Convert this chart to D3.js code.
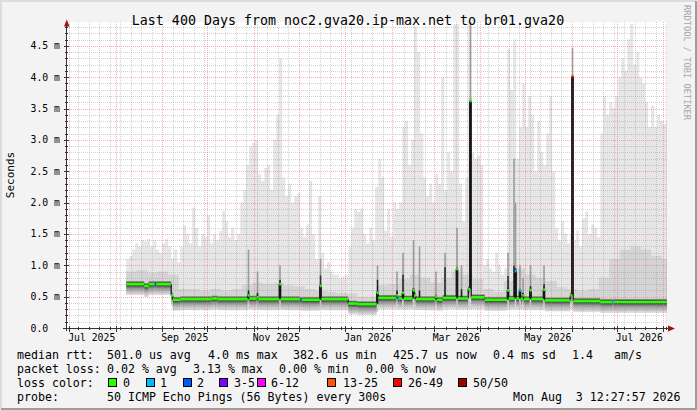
<!DOCTYPE html>
<html>
<head>
<meta charset="utf-8">
<script src="https://cdn.jsdelivr.net/npm/d3@7"></script>
<style>
  html, body { margin: 0; padding: 0; background: #f3f3f3; }
  svg { display: block; }
  text { font-family: "DejaVu Sans Mono", monospace; fill: #000; white-space: pre; }
</style>
</head>
<body>
<svg id="chart" width="697" height="410"></svg>
<script>
// ---- data (values in ms) ----
const title = "Last 400 Days from noc2.gva20.ip-max.net to br01.gva20";
const endTime = new Date(2026, 7, 3, 12, 27, 57);
const yMax = 4.88;
const yTicks = [0, 0.5, 1.0, 1.5, 2.0, 2.5, 3.0, 3.5, 4.0, 4.5];
const yTickLabels = ["0.0  ", "0.5 m", "1.0 m", "1.5 m", "2.0 m", "2.5 m", "3.0 m", "3.5 m", "4.0 m", "4.5 m"];
const xTickMonths = ["2025-07-01", "2025-09-01", "2025-11-01", "2026-01-01", "2026-03-01", "2026-05-01", "2026-07-01"];
const xTickLabels = ["Jul 2025", "Sep 2025", "Nov 2025", "Jan 2026", "Mar 2026", "May 2026", "Jul 2026"];

// median rtt as a step series: [from date, ms, loss class]
const medianRtt = [
  ["2025-08-08", 0.70, 0], ["2025-08-20", 0.67, 0], ["2025-08-23", 0.70, 0],
  ["2025-08-27", 0.70, 2], ["2025-08-28", 0.70, 0], ["2025-09-07", 0.52, 0],
  ["2025-09-08", 0.45, 0], ["2025-09-13", 0.46, 0], ["2025-10-04", 0.47, 0],
  ["2025-10-08", 0.46, 0], ["2025-10-28", 0.52, 0], ["2025-10-29", 0.47, 0],
  ["2025-11-03", 0.49, 0], ["2025-11-04", 0.46, 0], ["2025-11-18", 0.70, 0],
  ["2025-11-19", 0.46, 0], ["2025-12-02", 0.45, 2], ["2025-12-03", 0.45, 0],
  ["2025-12-15", 0.67, 0], ["2025-12-16", 0.46, 0], ["2026-01-03", 0.39, 0],
  ["2026-01-09", 0.38, 0], ["2026-01-22", 0.56, 0], ["2026-01-23", 0.48, 0],
  ["2026-02-04", 0.52, 0], ["2026-02-05", 0.47, 1], ["2026-02-06", 0.47, 0],
  ["2026-02-08", 0.56, 0], ["2026-02-09", 0.47, 0], ["2026-02-15", 0.60, 0],
  ["2026-02-16", 0.52, 0], ["2026-02-17", 0.46, 0], ["2026-03-02", 0.50, 0],
  ["2026-03-03", 0.45, 0], ["2026-03-07", 0.48, 0], ["2026-03-16", 0.94, 0],
  ["2026-03-17", 0.47, 0], ["2026-03-24", 0.62, 0], ["2026-03-25", 3.62, 0],
  ["2026-03-26", 0.49, 0], ["2026-04-04", 0.45, 0], ["2026-04-19", 0.60, 0],
  ["2026-04-20", 0.47, 0], ["2026-04-24", 0.91, 1], ["2026-04-25", 0.47, 0],
  ["2026-04-27", 0.60, 1], ["2026-04-28", 0.47, 0], ["2026-04-29", 0.52, 0],
  ["2026-04-30", 0.46, 0], ["2026-05-04", 0.60, 0], ["2026-05-05", 0.46, 0],
  ["2026-05-13", 0.61, 0], ["2026-05-14", 0.44, 0], ["2026-05-31", 0.52, 0],
  ["2026-06-01", 4.00, 7], ["2026-06-02", 0.43, 0], ["2026-06-20", 0.415, 0],
  ["2026-06-28", 0.415, 1], ["2026-06-29", 0.415, 0]
];

// smoke: slowest ping per 2-day bucket, starting 2025-08-08
const smokeStart = "2025-08-08";
const smokeMax = [
  1.10, 1.15, 1.25, 1.35, 1.30, 1.40, 1.38, 1.42, 1.30, 1.40,
  1.25, 1.20, 1.35, 1.42, 1.30, 1.10, 1.25, 1.05, 1.30, 1.64,
  1.50, 1.35, 1.92, 1.60, 1.30, 1.50, 1.45, 1.80, 1.35, 1.50,
  1.40, 1.55, 1.86, 1.70, 1.45, 1.60, 1.40, 1.50, 2.00, 2.20,
  2.60, 2.90, 2.95, 3.00, 2.45, 2.35, 2.55, 2.60, 2.20, 3.00,
  3.40, 4.30, 2.40, 2.10, 2.30, 2.00, 2.10, 2.15, 1.60, 1.45,
  1.65, 2.35, 1.50, 1.10, 2.10, 1.20, 0.95, 1.05, 0.90, 0.85,
  0.85, 0.80, 0.82, 0.85, 1.30, 1.60, 1.90, 1.85, 1.90, 1.50,
  1.35, 1.60, 1.40, 2.25, 2.70, 2.40, 1.55, 1.90, 1.45, 2.00,
  1.90, 2.00, 3.20, 3.30, 2.60, 3.00, 4.80, 4.40, 3.10, 2.40,
  2.10, 2.30, 2.00, 2.45, 2.30, 4.00, 2.20, 2.80, 2.50, 4.85,
  4.85, 2.30, 1.70, 2.40, 4.88, 2.80, 2.70, 2.75, 2.60, 1.00,
  1.10, 0.95, 0.90, 1.20, 1.00, 0.85, 0.95, 4.45, 3.80, 4.60,
  2.70, 3.20, 3.90, 3.20, 3.70, 3.40, 2.50, 3.30, 2.80, 2.60,
  3.10, 3.70, 2.50, 1.60, 1.40, 1.70, 1.50, 1.35, 1.50, 1.40,
  1.55, 1.30, 1.75, 1.85, 1.50, 1.65, 1.60, 1.45, 3.10, 3.70,
  3.40, 3.60, 3.50, 3.70, 4.00, 4.30, 4.10, 4.60, 4.85, 4.20,
  4.40, 4.00, 3.90, 3.60, 3.20, 3.55, 3.20, 3.40, 3.30, 3.25, 3.30
];

// smoke: upper edge of the dense part, one value per week from the same start
const smokeMid = [
  0.90, 0.92, 0.88, 0.90, 0.85, 0.62, 0.62, 0.60, 0.62, 0.60,
  0.62, 0.68, 0.72, 0.70, 0.72, 0.68, 0.66, 0.62, 0.60, 0.58,
  0.56, 0.55, 0.50, 0.50, 0.68, 0.70, 0.78, 0.85, 0.80, 0.72,
  0.80, 0.90, 0.85, 0.78, 0.62, 0.58, 0.75, 0.95, 0.85, 0.80,
  0.75, 0.65, 0.62, 0.60, 0.62, 0.80, 1.10, 1.25, 1.30, 1.25,
  1.15, 1.10
];

// smoke: fastest ping, step series
const smokeMin = [
  ["2025-08-08", 0.55], ["2025-09-08", 0.30], ["2026-01-03", 0.26],
  ["2026-01-23", 0.30], ["2026-06-20", 0.27]
];

// dense smoke columns: [date, dense top ms, smoke top ms]
const spikes = [
  ["2025-10-28", 0.60, 1.25], ["2025-11-03", 0.56, 0.90], ["2025-11-18", 0.77, 1.00],
  ["2025-12-15", 0.84, 1.10], ["2026-01-22", 0.77, 1.00], ["2026-02-04", 0.60, 0.90],
  ["2026-02-08", 0.85, 1.20], ["2026-02-15", 0.63, 1.40], ["2026-02-19", 0.60, 1.30],
  ["2026-03-02", 0.52, 0.90], ["2026-03-08", 0.97, 1.20], ["2026-03-16", 0.96, 1.60],
  ["2026-03-19", 0.62, 1.00], ["2026-03-25", 3.62, 4.88], ["2026-04-19", 0.83, 1.20],
  ["2026-04-23", 1.00, 2.70], ["2026-04-24", 0.95, 2.00], ["2026-04-27", 0.62, 1.00],
  ["2026-04-29", 0.56, 0.80], ["2026-05-04", 0.67, 1.00], ["2026-05-13", 0.70, 1.00],
  ["2026-06-01", 4.00, 4.47]
];

// legend texts
const rttStats = ["501.0 us avg", "4.0 ms max", "382.6 us min", "425.7 us now", "0.4 ms sd", "1.4", "am/s"];
const lossStats = ["0.02 % avg", "3.13 % max", "0.00 % min", "0.00 % now"];
const lossLabels = ["0", "1", "2", "3-5", "6-12", "13-25", "26-49", "50/50"];
const probeText = "50 ICMP Echo Pings (56 Bytes) every 300s";
const stampText = "Mon Aug  3 12:27:57 2026";

// ---- styles ----
const lossColors = ["#26ff00", "#00b8ff", "#0059ff", "#7e00ff", "#ff00ff", "#ff5500", "#ff0000", "#a10000"];
const W = 697, H = 410;
const plot = { left: 67, right: 667, top: 22, bottom: 328 };
const legendFont = 11.6, axisFont = 9.8;
const gridMinor = "rgba(130,130,130,0.35)", gridMajor = "rgba(240,110,110,0.55)";

const svg = d3.select("#chart");
const parse = d3.timeParse("%Y-%m-%d");
const startTime = d3.timeDay.offset(endTime, -400);

const x = d3.scaleTime().domain([startTime, endTime]).range([plot.left, plot.right]);
const y = d3.scaleLinear().domain([0, yMax]).range([plot.bottom, plot.top]);

// background and 3d frame
svg.append("rect").attr("width", W).attr("height", H).attr("fill", "#f3f3f3");
svg.append("path").attr("d", `M1,${H - 1}V1H${W - 1}`)
  .attr("fill", "none").attr("stroke", "#dcdcdc").attr("stroke-width", 2);
svg.append("path").attr("d", `M1,${H - 1}H${W - 1}V1`)
  .attr("fill", "none").attr("stroke", "#9c9c9c").attr("stroke-width", 2);
svg.append("rect")
  .attr("x", plot.left).attr("y", plot.top)
  .attr("width", plot.right - plot.left).attr("height", plot.bottom - plot.top)
  .attr("fill", "#fff");

const defs = svg.append("defs");
defs.append("clipPath").attr("id", "plotclip").append("rect")
  .attr("x", plot.left).attr("y", plot.top)
  .attr("width", plot.right - plot.left).attr("height", plot.bottom - plot.top);

const halo = defs.append("linearGradient").attr("id", "halo")
  .attr("x1", 0).attr("y1", 0).attr("x2", 0).attr("y2", 1);
[[0, "#a0a0a0"], [0.14, "#2a2a2a"], [0.32, "#444"], [0.5, "#929292"], [0.75, "#c0c0c0"], [1, "#e2e2e2"]]
  .forEach(([o, c]) => halo.append("stop").attr("offset", o).attr("stop-color", c));

const g = svg.append("g").attr("clip-path", "url(#plotclip)");

/**
 * Turns a regular bucket array into step points, closed at the end time.
 */
function bucketSeries(values, stepDays) {
  const t0 = parse(smokeStart);
  const pts = values.map((v, i) => ({ t: d3.timeDay.offset(t0, stepDays * i), v }));
  pts.push({ t: endTime, v: values[values.length - 1] });
  return pts;
}

/**
 * Turns [date, value, ...] breakpoints into step points, closed at the end time.
 */
function stepSeries(rows) {
  const pts = rows.map(r => ({ t: parse(r[0]), v: r[1], loss: r[2] }));
  pts.push({ t: endTime, v: rows[rows.length - 1][1], loss: rows[rows.length - 1][2] });
  return pts;
}

const stepArea = d3.area()
  .x(d => x(d.t))
  .y0(plot.bottom)
  .y1(d => y(d.v))
  .curve(d3.curveStepAfter);

// smoke layers
g.append("path").datum(bucketSeries(smokeMax, 2)).attr("d", stepArea).attr("fill", "#e6e6e6");
g.append("path").datum(bucketSeries(smokeMid, 7)).attr("d", stepArea).attr("fill", "#d4d4d4");
g.append("path").datum(stepSeries(smokeMin)).attr("d", stepArea).attr("fill", "#fff");

const median = stepSeries(medianRtt);

// dense band hugging the median
g.selectAll("rect.halo")
  .data(d3.pairs(median))
  .join("rect")
  .attr("class", "halo")
  .attr("x", ([a]) => x(a.t))
  .attr("width", ([a, b]) => Math.max(1.5, x(b.t) - x(a.t)))
  .attr("y", ([a]) => y(a.v) - 3)
  .attr("height", 14)
  .attr("fill", "url(#halo)");

/**
 * Median point in effect just before a given time.
 */
function medianBefore(t) {
  const i = d3.bisector(d => d.t).left(median, t) - 1;
  return median[Math.max(0, i)];
}

// dense smoke columns
spikes.forEach(([date, dense, top]) => {
  const t = parse(date);
  const x0 = x(t);
  const w = Math.max(1.6, x(d3.timeDay.offset(t, 1)) - x0);
  const base = medianBefore(t).v;
  const loss = medianBefore(d3.timeDay.offset(t, 1)).loss;
  g.append("rect")
    .attr("x", x0).attr("width", w)
    .attr("y", y(top)).attr("height", y(dense) - y(top))
    .attr("fill", "#9c9c9c");
  g.append("rect")
    .attr("x", x0).attr("width", w)
    .attr("y", y(dense)).attr("height", y(base) - y(dense))
    .attr("fill", loss === 7 ? "#5e1010" : "#1c1c1c");
});

// grid, drawn over the smoke
const grid = svg.append("g");
const crisp = v => Math.round(v) + 0.5;
const monthLines = d3.timeMonth.range(d3.timeMonth.ceil(startTime), endTime);
const weekLines = d3.timeMonday.range(startTime, endTime)
  .filter(t => !monthLines.some(m => Math.abs(x(m) - x(t)) < 2));
const minorY = d3.range(1, 49).map(i => i / 10).filter(v => Math.round(v * 10) % 5 !== 0);
const majorY = yTicks.filter(v => v > 0);

grid.selectAll("line.vminor").data(weekLines).join("line")
  .attr("x1", d => crisp(x(d))).attr("x2", d => crisp(x(d)))
  .attr("y1", plot.top).attr("y2", plot.bottom)
  .attr("stroke", gridMinor).attr("stroke-dasharray", "1,1");
grid.selectAll("line.hminor").data(minorY).join("line")
  .attr("x1", plot.left).attr("x2", plot.right)
  .attr("y1", d => crisp(y(d))).attr("y2", d => crisp(y(d)))
  .attr("stroke", gridMinor).attr("stroke-dasharray", "1,1");
grid.selectAll("line.vmajor").data(monthLines).join("line")
  .attr("x1", d => crisp(x(d))).attr("x2", d => crisp(x(d)))
  .attr("y1", plot.top).attr("y2", plot.bottom)
  .attr("stroke", gridMajor).attr("stroke-dasharray", "1,1");
grid.selectAll("line.hmajor").data(majorY).join("line")
  .attr("x1", plot.left).attr("x2", plot.right)
  .attr("y1", d => crisp(y(d))).attr("y2", d => crisp(y(d)))
  .attr("stroke", gridMajor).attr("stroke-dasharray", "1,1");

// median line: black jumps, loss-coloured levels
const med = svg.append("g").attr("clip-path", "url(#plotclip)");
med.selectAll("line.jump")
  .data(d3.pairs(median).filter(([a, b]) => a.v !== b.v))
  .join("line")
  .attr("x1", ([, b]) => x(b.t)).attr("x2", ([, b]) => x(b.t))
  .attr("y1", ([a]) => y(a.v)).attr("y2", ([, b]) => y(b.v))
  .attr("stroke", "#111").attr("stroke-width", 1.2);
med.selectAll("line.level")
  .data(d3.pairs(median))
  .join("line")
  .attr("x1", ([a]) => x(a.t))
  .attr("x2", ([a, b]) => Math.max(x(b.t), x(a.t) + 2))
  .attr("y1", ([a]) => y(a.v)).attr("y2", ([a]) => y(a.v))
  .attr("stroke", ([a]) => lossColors[a.loss])
  .attr("stroke-width", 2.7);

// axes with ticks and arrows
const axis = svg.append("g").attr("stroke", "#333").attr("stroke-width", 1);
axis.append("line").attr("x1", 66.5).attr("x2", 66.5).attr("y1", 331).attr("y2", plot.top);
axis.append("line").attr("x1", 63).attr("x2", 669).attr("y1", 328.5).attr("y2", 328.5);
majorY.forEach(v => axis.append("line")
  .attr("x1", 64).attr("x2", 69).attr("y1", crisp(y(v))).attr("y2", crisp(y(v))));
minorY.forEach(v => axis.append("line")
  .attr("x1", 65).attr("x2", 68).attr("y1", crisp(y(v))).attr("y2", crisp(y(v))));
monthLines.forEach(t => axis.append("line")
  .attr("x1", crisp(x(t))).attr("x2", crisp(x(t))).attr("y1", 326).attr("y2", 332));
weekLines.forEach(t => axis.append("line")
  .attr("x1", crisp(x(t))).attr("x2", crisp(x(t))).attr("y1", 327).attr("y2", 330));
svg.append("path").attr("d", "M64,26.5L69.5,26.5L66.8,19.5Z").attr("fill", "#9a1414");
svg.append("path").attr("d", "M668,325.5L668,331.5L675,328.5Z").attr("fill", "#9a1414");

// tick labels
svg.selectAll("text.ylab").data(yTicks).join("text")
  .attr("class", "ylab")
  .attr("x", 60).attr("y", d => y(d) + 3.5)
  .attr("text-anchor", "end")
  .style("font-size", axisFont + "px")
  .text((d, i) => yTickLabels[i]);

svg.selectAll("text.xlab").data(xTickMonths).join("text")
  .attr("class", "xlab")
  .attr("x", d => x(d3.timeDay.offset(parse(d), 15)))
  .attr("y", 340.5)
  .attr("text-anchor", "middle")
  .style("font-size", axisFont + "px")
  .text((d, i) => xTickLabels[i]);

// title, unit, watermark
svg.append("text").attr("x", 348).attr("y", 24.5).attr("text-anchor", "middle")
  .style("font-size", "13.3px").text(title);
svg.append("text").attr("transform", "translate(14,175) rotate(-90)")
  .attr("text-anchor", "middle").style("font-size", "11px").text("Seconds");
svg.append("text").attr("transform", "translate(684,5) rotate(90)")
  .style("font-size", "8.7px").style("fill", "#a6a6a6").text("RRDTOOL / TOBI OETIKER");

// legend
const legend = svg.append("g").style("font-size", legendFont + "px");
const rows = [358.5, 372.5, 386.5, 400.5];
legend.append("text").attr("x", 17).attr("y", rows[0]).text("median rtt:");
legend.append("text").attr("x", 17).attr("y", rows[1]).text("packet loss:");
legend.append("text").attr("x", 17).attr("y", rows[2]).text("loss color:");
legend.append("text").attr("x", 17).attr("y", rows[3]).text("probe:");

const rttX = [107, 208, 293, 393, 493, 572, 614];
rttStats.forEach((s, i) => legend.append("text").attr("x", rttX[i]).attr("y", rows[0]).text(s));
const lossX = [107, 193, 279, 366];
lossStats.forEach((s, i) => legend.append("text").attr("x", lossX[i]).attr("y", rows[1]).text(s));

const boxX = [108, 146, 183, 219, 257, 327, 393, 458];
const labX = [123, 160, 197, 234, 271, 343, 408, 473];
lossLabels.forEach((s, i) => {
  legend.append("rect")
    .attr("x", boxX[i] + 0.5).attr("y", 378.5).attr("width", 8).attr("height", 8)
    .attr("fill", lossColors[i]).attr("stroke", "#000");
  legend.append("text").attr("x", labX[i]).attr("y", rows[2]).text(s);
});

legend.append("text").attr("x", 107).attr("y", rows[3]).text(probeText);
legend.append("text").attr("x", 513).attr("y", rows[3]).text(stampText);
</script>
</body>
</html>
